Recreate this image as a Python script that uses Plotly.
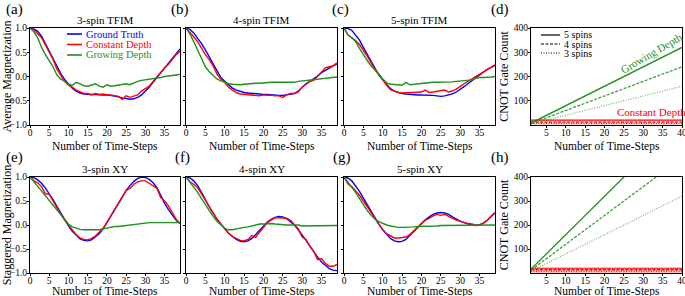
import plotly.graph_objects as go

steps = list(range(40))

# ---- TFIM (average magnetization) ----
tfim3_truth = [1.0, 0.98, 0.93, 0.83, 0.68, 0.52, 0.35, 0.2, 0.06, -0.06, -0.16, -0.24, -0.3, -0.34, -0.36, -0.37, -0.37, -0.37, -0.38, -0.38,
               -0.38, -0.39, -0.4, -0.42, -0.44, -0.46, -0.47, -0.46, -0.43, -0.38, -0.31, -0.22, -0.12, -0.02, 0.08, 0.18, 0.28, 0.38, 0.48, 0.57]
tfim3_const = [1.0, 0.96, 0.88, 0.8, 0.65, 0.5, 0.35, 0.15, 0.02, -0.1, -0.18, -0.22, -0.28, -0.32, -0.35, -0.35, -0.38, -0.35, -0.37, -0.36,
               -0.38, -0.38, -0.4, -0.41, -0.47, -0.4, -0.43, -0.4, -0.38, -0.3, -0.25, -0.2, -0.1, 0.0, 0.1, 0.18, 0.25, 0.35, 0.45, 0.52]
tfim3_grow = [1.0, 0.92, 0.8, 0.6, 0.45, 0.33, 0.2, 0.03, -0.05, -0.1, -0.16, -0.18, -0.12, -0.15, -0.19, -0.2, -0.17, -0.15, -0.2, -0.22,
              -0.17, -0.2, -0.19, -0.18, -0.17, -0.15, -0.17, -0.13, -0.1, -0.08, -0.07, -0.05, -0.04, -0.03, -0.02, 0.0, 0.01, 0.02, 0.03, 0.04]

tfim4_truth = [1.0, 0.97, 0.9, 0.8, 0.68, 0.55, 0.4, 0.25, 0.1, -0.02, -0.1, -0.18, -0.24, -0.28, -0.31, -0.33, -0.34, -0.35, -0.36, -0.37,
               -0.37, -0.37, -0.38, -0.38, -0.39, -0.39, -0.38, -0.37, -0.35, -0.3, -0.22, -0.15, -0.1, -0.05, 0.01, 0.08, 0.13, 0.18, 0.22, 0.26]
tfim4_const = [1.0, 0.92, 0.82, 0.72, 0.58, 0.45, 0.35, 0.22, 0.05, -0.05, -0.12, -0.22, -0.28, -0.33, -0.36, -0.37, -0.37, -0.38, -0.39, -0.4,
               -0.38, -0.38, -0.39, -0.4, -0.4, -0.43, -0.38, -0.35, -0.35, -0.32, -0.22, -0.16, -0.1, -0.08, 0.0, 0.08, 0.18, 0.2, 0.22, 0.28]
tfim4_grow = [1.0, 0.88, 0.72, 0.55, 0.38, 0.2, 0.1, 0.02, -0.05, -0.09, -0.12, -0.15, -0.16, -0.17, -0.17, -0.16, -0.15, -0.15, -0.14, -0.14,
              -0.13, -0.13, -0.12, -0.12, -0.12, -0.12, -0.13, -0.12, -0.12, -0.1, -0.09, -0.08, -0.08, -0.07, -0.06, -0.05, -0.04, -0.03, -0.02, -0.01]

tfim5_truth = [1.0, 0.99, 0.95, 0.86, 0.75, 0.6, 0.45, 0.3, 0.15, 0.03, -0.07, -0.17, -0.25, -0.3, -0.33, -0.35, -0.36, -0.37, -0.37, -0.38,
               -0.38, -0.38, -0.39, -0.39, -0.4, -0.41, -0.4, -0.38, -0.36, -0.32, -0.27, -0.21, -0.15, -0.09, -0.03, 0.04, 0.1, 0.15, 0.19, 0.23]
tfim5_const = [1.0, 0.86, 0.8, 0.74, 0.66, 0.55, 0.42, 0.28, 0.15, 0.05, -0.07, -0.18, -0.27, -0.3, -0.33, -0.34, -0.33, -0.33, -0.33, -0.33,
               -0.32, -0.28, -0.33, -0.32, -0.31, -0.3, -0.28, -0.32, -0.3, -0.26, -0.2, -0.15, -0.1, -0.05, 0.0, 0.05, 0.1, 0.15, 0.2, 0.24]
tfim5_grow = [1.0, 0.86, 0.8, 0.72, 0.58, 0.45, 0.33, 0.22, 0.12, 0.04, -0.05, -0.13, -0.16, -0.16, -0.17, -0.18, -0.12, -0.17, -0.16, -0.15,
              -0.15, -0.14, -0.12, -0.12, -0.12, -0.12, -0.12, -0.12, -0.11, -0.1, -0.09, -0.09, -0.08, -0.07, -0.04, -0.02, -0.02, -0.02, -0.01, 0.0]

# ---- XY (staggered magnetization) ----
xy3_truth = [1.0, 0.985, 0.94, 0.87, 0.77, 0.66, 0.53, 0.39, 0.25, 0.11, -0.02, -0.13, -0.22, -0.29, -0.32, -0.33, -0.31, -0.25, -0.18, -0.08,
             0.05, 0.18, 0.32, 0.46, 0.59, 0.72, 0.82, 0.91, 0.97, 1.0, 0.99, 0.95, 0.88, 0.78, 0.62, 0.45, 0.32, 0.2, 0.1, 0.03]
xy3_const = [1.0, 0.92, 0.88, 0.8, 0.65, 0.64, 0.5, 0.35, 0.22, 0.1, 0.0, -0.1, -0.2, -0.27, -0.3, -0.31, -0.28, -0.23, -0.15, -0.07,
             0.05, 0.18, 0.3, 0.45, 0.58, 0.72, 0.76, 0.85, 0.9, 0.92, 0.92, 0.87, 0.82, 0.76, 0.57, 0.5, 0.4, 0.25, 0.12, 0.03]
xy3_grow = [1.0, 0.9, 0.82, 0.72, 0.62, 0.5, 0.4, 0.3, 0.2, 0.1, 0.02, -0.04, -0.07, -0.09, -0.1, -0.1, -0.11, -0.11, -0.1, -0.08,
            -0.06, -0.04, -0.03, -0.03, -0.02, 0.0, 0.01, 0.02, 0.03, 0.04, 0.05, 0.05, 0.05, 0.05, 0.05, 0.05, 0.05, 0.05, 0.05, 0.05]

xy4_truth = [1.0, 0.98, 0.92, 0.82, 0.68, 0.52, 0.38, 0.25, 0.12, 0.02, -0.08, -0.17, -0.24, -0.3, -0.34, -0.35, -0.33, -0.28, -0.2, -0.11,
             -0.02, 0.06, 0.12, 0.16, 0.18, 0.17, 0.13, 0.07, 0.0, -0.1, -0.2, -0.32, -0.44, -0.56, -0.67, -0.77, -0.85, -0.91, -0.94, -0.95]
xy4_const = [1.0, 0.9, 0.85, 0.78, 0.65, 0.52, 0.38, 0.25, 0.12, 0.02, -0.08, -0.17, -0.24, -0.28, -0.32, -0.33, -0.3, -0.22, -0.26, -0.15,
             -0.05, 0.05, 0.1, 0.15, 0.15, 0.15, 0.14, 0.1, 0.02, -0.08, -0.25, -0.3, -0.45, -0.55, -0.72, -0.7, -0.8, -0.86, -0.86, -0.82]
xy4_grow = [1.0, 0.9, 0.8, 0.68, 0.55, 0.42, 0.3, 0.18, 0.08, 0.0, -0.07, -0.1, -0.1, -0.08, -0.06, -0.05, -0.04, -0.02, 0.0, 0.02,
            0.02, 0.03, 0.03, 0.02, 0.01, 0.0, 0.0, 0.0, 0.0, 0.0, -0.02, -0.02, -0.02, -0.02, -0.02, -0.01, -0.01, -0.01, -0.01, -0.01]

xy5_truth = [1.0, 0.98, 0.92, 0.82, 0.7, 0.56, 0.42, 0.28, 0.14, 0.02, -0.1, -0.2, -0.28, -0.33, -0.35, -0.34, -0.3, -0.22, -0.14, -0.05,
             0.04, 0.11, 0.17, 0.22, 0.25, 0.26, 0.25, 0.22, 0.17, 0.12, 0.08, 0.05, 0.02, 0.0, -0.01, 0.0, 0.04, 0.1, 0.18, 0.26]
xy5_const = [1.0, 0.86, 0.8, 0.72, 0.62, 0.5, 0.38, 0.25, 0.12, 0.0, -0.1, -0.18, -0.23, -0.27, -0.27, -0.26, -0.25, -0.2, -0.13, -0.06,
             0.03, 0.1, 0.14, 0.19, 0.22, 0.2, 0.22, 0.18, 0.14, 0.1, 0.08, 0.05, 0.03, 0.02, 0.0, 0.0, 0.04, 0.1, 0.17, 0.25]
xy5_grow = [1.0, 0.9, 0.8, 0.68, 0.55, 0.42, 0.3, 0.2, 0.12, 0.07, 0.03, 0.0, -0.02, -0.04, -0.05, -0.05, -0.05, -0.04, -0.04, -0.03,
            -0.03, -0.02, -0.02, -0.02, -0.02, -0.01, -0.01, -0.01, -0.01, -0.01, -0.01, -0.01, 0.0, 0.0, 0.0, 0.0, 0.0, 0.0, 0.0, 0.0]

# ---- CNOT counts ----
cnot_steps = [1, 40]
tfim_grow_5 = [8, 320]
tfim_grow_4 = [6, 240]
tfim_grow_3 = [4, 160]
tfim_const_5 = [20, 20]
tfim_const_4 = [12, 12]
tfim_const_3 = [6, 6]
xy_grow_5 = [16, 640]
xy_grow_4 = [12, 480]
xy_grow_3 = [8, 320]
xy_const_5 = [20, 20]
xy_const_4 = [14, 14]
xy_const_3 = [8, 8]

mag_ticks = [-1.0, -0.5, 0.0, 0.5, 1.0]
mag_ticklabels = ["\u22121.0", "\u22120.5", "0.0", "0.5", "1.0"]
step_ticks = [0, 5, 10, 15, 20, 25, 30, 35]
cnot_step_ticks = [5, 10, 15, 20, 25, 30, 35, 40]
cnot_ticks = [100, 200, 300, 400]

panel_titles = ["3-spin TFIM", "4-spin TFIM", "5-spin TFIM", "3-spin XY", "4-spin XY", "5-spin XY"]
panel_letters = ["(a)", "(b)", "(c)", "(d)", "(e)", "(f)", "(g)", "(h)"]
method_names = ["Ground Truth", "Constant Depth", "Growing Depth"]
spin_labels = ["5 spins", "4 spins", "3 spins"]
x_title = "Number of Time-Steps"

BLUE = "#0000ff"
RED = "#ff0000"
GREEN = "#1f8f1f"
FONT = "Liberation Serif"

W, H = 685, 296
def px_x(a, b):
    return [a / W, b / W]
def px_y(top, bottom):
    return [1 - bottom / H, 1 - top / H]

xdoms = [px_x(30, 180), px_x(186, 337), px_x(344, 495), px_x(531, 682)]
ydoms = [px_y(28, 125), px_y(177, 273)]
xtitle_y = [146.5, 291.5]

fig = go.Figure()

mag_sets = [
    (tfim3_truth, tfim3_const, tfim3_grow),
    (tfim4_truth, tfim4_const, tfim4_grow),
    (tfim5_truth, tfim5_const, tfim5_grow),
    (xy3_truth, xy3_const, xy3_grow),
    (xy4_truth, xy4_const, xy4_grow),
    (xy5_truth, xy5_const, xy5_grow),
]
mag_axes = [1, 2, 3, 5, 6, 7]
method_colors = [BLUE, RED, GREEN]

axis_common = dict(showline=True, linecolor="black", linewidth=1, mirror=True,
                   ticks="outside", ticklen=2, tickwidth=1, tickcolor="black",
                   showgrid=False, zeroline=False, automargin=False, ticklabelstandoff=-2,
                   ticklabeloverflow="allow",
                   tickfont=dict(family=FONT, size=9.5, color="black"))

for ax, series in zip(mag_axes, mag_sets):
    xa = "x" if ax == 1 else f"x{ax}"
    ya = "y" if ax == 1 else f"y{ax}"
    for vals, col, nm in zip(series, method_colors, method_names):
        fig.add_trace(go.Scatter(x=steps, y=vals, mode="lines", line=dict(color=col, width=1.4),
                                 name=nm, showlegend=False, xaxis=xa, yaxis=ya))

SHORT_DASH = "3px,1.5px"
SHORT_DOT = "1px,1.5px"
dashes = ["solid", SHORT_DASH, SHORT_DOT]
cnot_sets = [
    (4, (tfim_grow_5, tfim_grow_4, tfim_grow_3), (tfim_const_5, tfim_const_4, tfim_const_3), "rgba(255,0,0,0.12)"),
    (8, (xy_grow_5, xy_grow_4, xy_grow_3), (xy_const_5, xy_const_4, xy_const_3), "rgba(255,90,90,0.4)"),
]
gops = [1.0, 0.85, 0.6]
for ax, grow, const, fillc in cnot_sets:
    xa, ya = f"x{ax}", f"y{ax}"
    for k in range(3):
        fig.add_trace(go.Scatter(x=cnot_steps, y=const[k], mode="lines",
                                 line=dict(color=RED, width=1.1, dash=dashes[k]),
                                 fill="tozeroy" if k == 0 else None, fillcolor=fillc,
                                 showlegend=False, xaxis=xa, yaxis=ya))
    for k in range(3):
        fig.add_trace(go.Scatter(x=cnot_steps, y=grow[k], mode="lines",
                                 line=dict(color=GREEN, width=1.3, dash=dashes[k]), opacity=gops[k],
                                 showlegend=False, xaxis=xa, yaxis=ya))

layout = dict(width=W, height=H, margin=dict(l=0, r=0, t=0, b=0),
              paper_bgcolor="white", plot_bgcolor="white", showlegend=False,
              font=dict(family=FONT, color="black"))

title_font = dict(family=FONT, size=11, color="black")
for n in range(1, 9):
    row = 0 if n <= 4 else 1
    col = (n - 1) % 4
    xk = "xaxis" if n == 1 else f"xaxis{n}"
    yk = "yaxis" if n == 1 else f"yaxis{n}"
    xa = dict(axis_common, domain=xdoms[col], anchor="y" if n == 1 else f"y{n}",
              ticklabelstandoff=-3)
    ya = dict(axis_common, domain=ydoms[row], anchor="x" if n == 1 else f"x{n}")
    if col < 3:
        xa.update(range=[0, 39], tickvals=step_ticks)
        ya.update(range=[-1, 1], tickvals=mag_ticks, ticktext=mag_ticklabels)
        if col != 0:
            ya.update(showticklabels=False)
        else:
            ya.update(title=dict(text="Average Magnetization" if row == 0 else "Staggered Magnetization",
                                 font=dict(family=FONT, size=12), standoff=2))
    else:
        xa.update(range=[1, 40], tickvals=cnot_step_ticks)
        ya.update(range=[0, 400], tickvals=cnot_ticks,
                  title=dict(text="CNOT Gate Count", font=dict(family=FONT, size=12), standoff=2))
    layout[xk] = xa
    layout[yk] = ya

annotations = []
shapes = []
title_axes = [1, 2, 3, 5, 6, 7]
for t, ax in zip(panel_titles, title_axes):
    xr = "x" if ax == 1 else f"x{ax}"
    yr = "y" if ax == 1 else f"y{ax}"
    annotations.append(dict(text=t, xref=f"{xr} domain", yref=f"{yr} domain", x=0.5, y=1.0,
                            yanchor="bottom", xanchor="center", showarrow=False, yshift=0,
                            font=title_font))
# x-axis titles
for n in range(1, 9):
    row = 0 if n <= 4 else 1
    xr = "x" if n == 1 else f"x{n}"
    annotations.append(dict(text=x_title, xref=f"{xr} domain", yref="paper", x=0.5,
                            y=1 - xtitle_y[row] / H, xanchor="center", yanchor="middle",
                            showarrow=False, font=dict(family=FONT, size=11.5, color="black")))
letter_pos = [(14, 10), (180, 10), (340, 10), (500, 10), (14, 157), (182, 157), (342, 157), (500, 157)]
for letter, (lx, ly) in zip(panel_letters, letter_pos):
    annotations.append(dict(text=letter, xref="paper", yref="paper", x=lx / W, y=1 - ly / H,
                            xanchor="center", yanchor="middle", showarrow=False,
                            font=dict(family=FONT, size=15, color="black")))
annotations.append(dict(text="Growing Depth", xref="x4", yref="y4", x=32.2, y=296, showarrow=False,
                        textangle=-30, font=dict(family=FONT, size=11, color=GREEN)))
annotations.append(dict(text="Constant Depth", xref="x4", yref="y4", x=32, y=52, showarrow=False,
                        font=dict(family=FONT, size=11, color=RED)))

# legend (a): colored text with line samples
leg_rows_a = [34, 44.5, 55]
for nm, col, ry in zip(method_names, method_colors, leg_rows_a):
    shapes.append(dict(type="line", xref="paper", yref="paper", x0=67 / W, x1=82 / W,
                       y0=1 - ry / H, y1=1 - ry / H, line=dict(color=col, width=1.6)))
    annotations.append(dict(text=nm, xref="paper", yref="paper", x=84 / W, y=1 - ry / H,
                            xanchor="left", yanchor="middle", showarrow=False,
                            font=dict(family=FONT, size=10.5, color=col)))
# legend (d): black line styles
leg_rows_d = [35, 44, 53]
for lab, dsh, ry in zip(spin_labels, dashes, leg_rows_d):
    shapes.append(dict(type="line", xref="paper", yref="paper", x0=541 / W, x1=560 / W,
                       y0=1 - ry / H, y1=1 - ry / H, line=dict(color="black", width=1.2, dash=dsh)))
    annotations.append(dict(text=lab, xref="paper", yref="paper", x=562 / W, y=1 - ry / H,
                            xanchor="left", yanchor="middle", showarrow=False,
                            font=dict(family=FONT, size=10, color="black")))

layout["annotations"] = annotations
layout["shapes"] = shapes

fig.update_layout(**layout)
fig.write_html("out.html", config={"displayModeBar": False},
               post_script="document.body.style.margin='0';document.body.style.overflow='hidden';")
